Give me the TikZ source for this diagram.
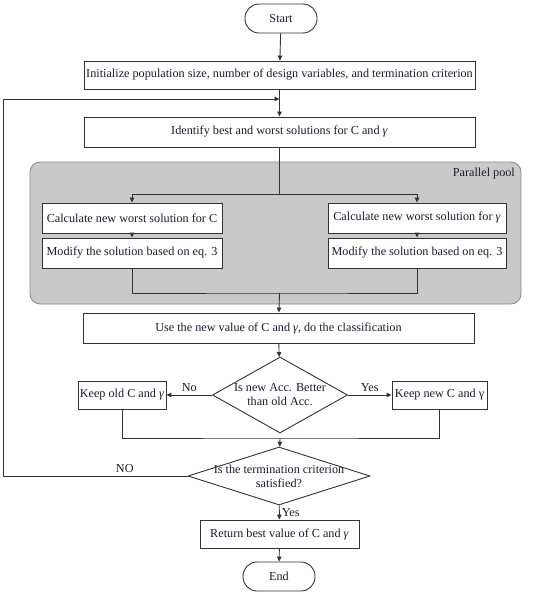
\documentclass[tikz,border=0pt]{standalone}
\usepackage{fontspec}
\setmainfont{Liberation Serif}
\usetikzlibrary{positioning,shapes.geometric,arrows.meta}
\definecolor{cline}{HTML}{333333}
\definecolor{cpool}{HTML}{c9c9c9}
\definecolor{cpooledge}{HTML}{8a8a8a}
\definecolor{ctext}{HTML}{1c1c30}

\begin{document}
\begin{tikzpicture}[x=1pt, y=-1pt, every node/.style={font=\fontsize{12.2}{14}\selectfont, text=ctext},
    procbox/.style={draw=cline, fill=white, line width=.9pt, inner sep=0pt, minimum height=29pt},
    termbox/.style={procbox, rounded corners=14pt},
    decision/.style={draw=cline, fill=white, line width=.9pt, diamond, inner sep=0pt},
    flow/.style={draw=cline, line width=.9pt, -{Triangle[length=5pt,width=4.5pt]}},
    link/.style={draw=cline, line width=.9pt}]
  \useasboundingbox (0,0) rectangle (550,594);
  % parallel pool
  \node[fill=cpool, draw=cpooledge, line width=.8pt, rounded corners=10pt, minimum width=491pt, minimum height=142pt] (pool) at (275.5,233) {};
  \node[anchor=north east] (poollbl) at ([xshift=-3pt,yshift=-3pt]pool.north east) {Parallel pool};
  % nodes
  \node[termbox, minimum width=72pt] (start) at (281,18.5) {Start};
  \node[procbox, minimum width=391pt, minimum height=28pt] (init) at (279.5,75) {Initialize population size, number of design variables, and termination criterion};
  \node[procbox, minimum width=391pt, minimum height=30pt] (ident) at (279.5,132) {Identify best and worst solutions for C and \textit{γ}};
  \node[procbox, minimum width=180pt, minimum height=30pt] (calcC) at (132,218) {Calculate new worst solution for C};
  \node[procbox, minimum width=178pt, minimum height=30pt] (calcG) at (417,218) {Calculate new worst solution for \textit{γ}};
  \node[procbox, minimum width=180pt, minimum height=30pt] (modC) at (132,253) {Modify the solution based on eq. 3};
  \node[procbox, minimum width=178pt, minimum height=30pt] (modG) at (417,253) {Modify the solution based on eq. 3};
  \node[procbox, minimum width=391pt, minimum height=30pt] (use) at (278.5,328) {Use the new value of C and \textit{γ}, do the classification};
  \node[decision, minimum width=135pt, minimum height=76pt] (acc) at (280,395) {};
  \node[align=center] (acctxt) at (acc) {Is new Acc. Better\\than old Acc.};
  \node[procbox, minimum width=88pt, minimum height=28pt] (keepold) at (122,395) {Keep old C and \textit{γ}};
  \node[procbox, minimum width=95pt, minimum height=28pt] (keepnew) at (439.5,395) {Keep new C and γ};
  \node[decision, minimum width=182pt, minimum height=58pt] (termq) at (279,476) {};
  \node[align=center] (termtxt) at (termq) {Is the termination criterion\\satisfied?};
  \node[procbox, minimum width=159pt, minimum height=28pt] (ret) at (279.5,534) {Return best value of C and \textit{γ}};
  \node[termbox, minimum width=72pt] (End) at (279,576.5) {End};
  % helper points
  \coordinate (loopin) at (279.5,99);
  \coordinate (loopx) at (3,476);
  \coordinate (split) at (279.5,194);
  \coordinate (join) at (279.5,293);
  \coordinate (join2) at (280,438);
  % connectors
  \draw[flow] (start) -- (init);
  \draw[flow] (init) -- (ident);
  \draw[flow] (termq.west) -- node[above, pos=.34] {NO} (loopx) |- (loopin);
  \draw[link] (ident) -- (split);
  \draw[flow] (split) -| (calcC);
  \draw[flow] (split) -| (calcG);
  \draw[flow] (calcC) -- (modC);
  \draw[flow] (calcG) -- (modG);
  \draw[link] (modC) |- (join) -| (modG);
  \draw[flow] (join) -- (use);
  \draw[flow] (use) -- (acc);
  \draw[flow] (acc) -- node[above] {No} (keepold);
  \draw[flow] (acc) -- node[above] {Yes} (keepnew);
  \draw[link] (keepold) |- (join2) -| (keepnew);
  \draw[flow] (join2) -- (termq);
  \draw[flow] (termq) -- node[right, inner sep=2pt] {Yes} (ret);
  \draw[flow] (ret) -- (End);
\end{tikzpicture}
\end{document}
